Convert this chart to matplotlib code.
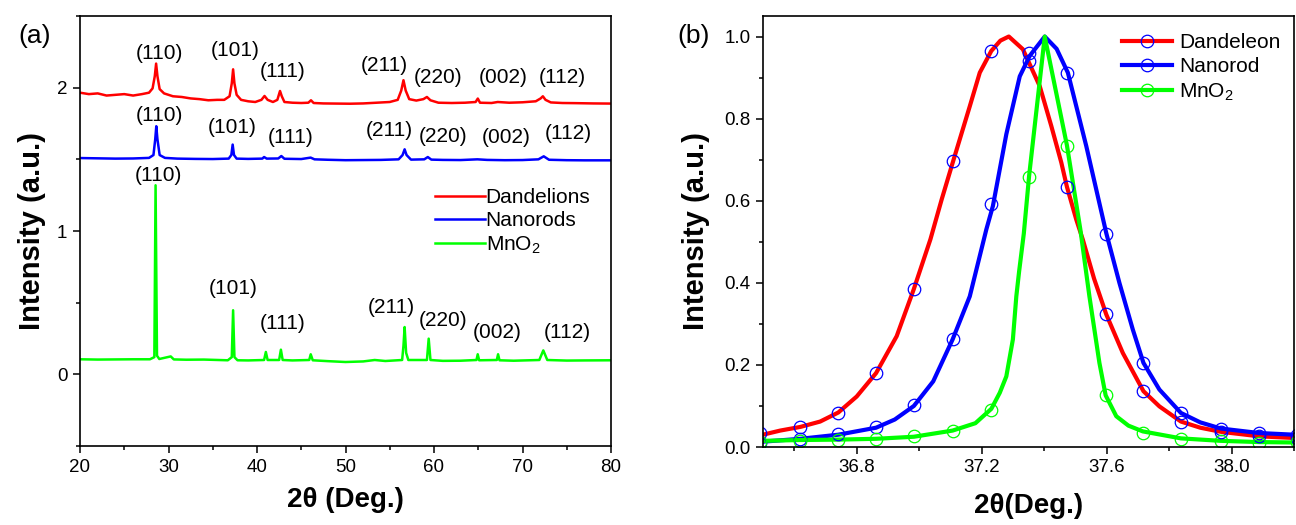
import matplotlib
matplotlib.use("Agg")
import matplotlib.pyplot as plt
from matplotlib.ticker import MultipleLocator

plt.rcParams['font.family'] = ['Liberation Sans', 'DejaVu Sans']
plt.rcParams['mathtext.default'] = 'regular'

# ---- (a) XRD patterns ----
red_2t = [20.0, 21.0, 22.0, 23.0, 24.0, 25.0, 26.0, 27.0, 27.8, 28.2, 28.45, 28.6, 28.75, 29.0,
          29.5, 30.5, 31.5, 32.5, 33.5, 34.5, 35.5, 36.3, 36.9, 37.15, 37.3, 37.45, 37.7, 38.2,
          39.0, 39.8, 40.5, 40.85, 41.2, 41.8, 42.3, 42.6, 42.8, 43.1, 44.0, 45.0, 45.8, 46.1,
          46.4, 47.5, 49.0, 50.5, 52.0, 53.5, 55.0, 55.9, 56.3, 56.55, 56.8, 57.2, 58.0, 58.8,
          59.2, 59.6, 60.5, 62.0, 63.5, 64.7, 64.95, 65.2, 66.5, 67.2, 68.5, 70.0, 71.5, 72.05,
          72.3, 72.6, 73.2, 74.5, 76.0, 78.0, 80.0]
red_int = [1.965, 1.955, 1.960, 1.945, 1.950, 1.955, 1.945, 1.955, 1.965, 1.995, 2.08, 2.168, 2.08, 1.99,
           1.960, 1.940, 1.935, 1.925, 1.920, 1.912, 1.915, 1.915, 1.940, 2.03, 2.128, 2.03, 1.950, 1.915,
           1.905, 1.900, 1.915, 1.942, 1.915, 1.900, 1.915, 1.977, 1.940, 1.900, 1.895, 1.893, 1.895, 1.912,
           1.893, 1.890, 1.889, 1.888, 1.890, 1.895, 1.900, 1.915, 1.98, 2.052, 1.98, 1.920, 1.910, 1.920,
           1.935, 1.912, 1.895, 1.893, 1.895, 1.900, 1.924, 1.895, 1.893, 1.900, 1.895, 1.898, 1.905, 1.925,
           1.940, 1.915, 1.897, 1.893, 1.892, 1.890, 1.889]

blue_2t = [20.0, 22.0, 24.0, 26.0, 27.8, 28.3, 28.5, 28.62, 28.75, 29.0, 29.6, 31.0, 33.0, 35.0,
           36.8, 37.1, 37.25, 37.4, 37.7, 39.0, 40.6, 40.8, 41.1, 42.4, 42.75, 43.1, 45.0, 46.06,
           46.5, 48.0, 50.0, 52.0, 54.0, 56.0, 56.45, 56.68, 56.9, 57.4, 58.9, 59.3, 59.7, 61.0,
           63.0, 64.9, 66.0, 68.0, 70.0, 71.8, 72.4, 73.0, 75.0, 77.0, 80.0]
blue_int = [1.509, 1.507, 1.505, 1.506, 1.510, 1.53, 1.64, 1.731, 1.64, 1.53, 1.510, 1.505, 1.503, 1.502,
            1.505, 1.53, 1.603, 1.53, 1.505, 1.503, 1.505, 1.516, 1.505, 1.506, 1.523, 1.504, 1.502, 1.512,
            1.500, 1.497, 1.494, 1.495, 1.496, 1.500, 1.53, 1.570, 1.53, 1.498, 1.500, 1.516, 1.498, 1.496,
            1.495, 1.500, 1.496, 1.494, 1.495, 1.500, 1.521, 1.497, 1.494, 1.493, 1.493]

green_2t = [20.0, 22.0, 24.0, 26.0, 27.9, 28.4, 28.54, 28.7, 28.96, 30.25, 30.6, 32.0, 34.0, 36.7,
            37.15, 37.3, 37.45, 37.8, 39.0, 40.8, 41.0, 41.2, 42.5, 42.7, 42.9, 44.0, 45.9, 46.07,
            46.3, 48.0, 50.0, 52.0, 53.3, 54.5, 56.4, 56.55, 56.68, 56.85, 57.1, 59.2, 59.4, 59.6,
            61.0, 63.0, 64.8, 64.94, 65.1, 67.1, 67.24, 67.4, 69.0, 71.9, 72.35, 72.8, 75.0, 77.0, 80.0]
green_int = [0.105, 0.103, 0.104, 0.105, 0.105, 0.12, 1.319, 0.13, 0.107, 0.125, 0.104, 0.102, 0.103, 0.098,
             0.12, 0.447, 0.12, 0.098, 0.097, 0.10, 0.156, 0.10, 0.10, 0.172, 0.10, 0.097, 0.10, 0.14,
             0.098, 0.092, 0.086, 0.09, 0.10, 0.093, 0.10, 0.2, 0.33, 0.15, 0.10, 0.10, 0.249, 0.10,
             0.094, 0.095, 0.10, 0.14, 0.098, 0.10, 0.14, 0.098, 0.095, 0.10, 0.167, 0.10, 0.096, 0.097, 0.098]

planes = ['(110)', '(101)', '(111)', '(211)', '(220)', '(002)', '(112)']
red_lab_x = [28.93, 37.5, 42.94, 54.38, 60.41, 67.87, 74.53]
red_lab_y = [2.238, 2.26, 2.11, 2.156, 2.068, 2.068, 2.068]
blue_lab_x = [28.93, 37.21, 43.8, 54.95, 60.97, 68.13, 75.17]
blue_lab_y = [1.807, 1.721, 1.652, 1.703, 1.661, 1.652, 1.68]
green_lab_x = [28.85, 37.26, 42.94, 55.15, 61.0, 67.15, 75.08]
green_lab_y = [1.389, 0.598, 0.354, 0.465, 0.377, 0.295, 0.295]

# ---- (b) (101) peak, fitted lines + measured points ----
dand_t = [36.50, 36.555, 36.62, 36.683, 36.741, 36.80, 36.862, 36.928, 36.983, 37.036, 37.072, 37.109,
          37.162, 37.194, 37.231, 37.26, 37.287, 37.332, 37.386, 37.423, 37.455, 37.473, 37.503, 37.524,
          37.56, 37.599, 37.652, 37.718, 37.769, 37.838, 37.90, 37.966, 38.089, 38.20]
dand_v = [0.030, 0.040, 0.049, 0.062, 0.084, 0.123, 0.18, 0.27, 0.385, 0.506, 0.603, 0.697,
          0.83, 0.912, 0.965, 0.99, 1.0, 0.969, 0.879, 0.782, 0.693, 0.634, 0.554, 0.505,
          0.41, 0.323, 0.229, 0.136, 0.099, 0.062, 0.047, 0.037, 0.026, 0.022]
rod_t = [36.50, 36.62, 36.741, 36.862, 36.922, 36.983, 37.045, 37.107, 37.162, 37.215, 37.236, 37.279,
         37.322, 37.354, 37.402, 37.44, 37.476, 37.535, 37.599, 37.641, 37.684, 37.718, 37.769, 37.838,
         37.90, 37.966, 38.089, 38.20]
rod_v = [0.013, 0.020, 0.030, 0.047, 0.067, 0.100, 0.16, 0.262, 0.367, 0.53, 0.587, 0.762,
         0.903, 0.953, 1.0, 0.97, 0.912, 0.733, 0.521, 0.40, 0.286, 0.205, 0.14, 0.083,
         0.060, 0.045, 0.034, 0.030]
mno_t = [36.50, 36.62, 36.741, 36.862, 36.983, 37.107, 37.18, 37.231, 37.258, 37.279, 37.30, 37.311,
         37.32, 37.335, 37.352, 37.402, 37.473, 37.516, 37.545, 37.577, 37.597, 37.631, 37.67, 37.716,
         37.838, 37.966, 38.089, 38.20]
mno_v = [0.015, 0.017, 0.018, 0.020, 0.025, 0.040, 0.058, 0.093, 0.132, 0.172, 0.262, 0.367,
         0.428, 0.52, 0.661, 1.0, 0.735, 0.53, 0.367, 0.205, 0.126, 0.075, 0.052, 0.038,
         0.021, 0.015, 0.012, 0.011]

pts_t = [36.49, 36.619, 36.741, 36.862, 36.983, 37.107, 37.231, 37.352, 37.473, 37.597, 37.718,
         37.838, 37.966, 38.089, 38.21]
dand_pts = [0.033, 0.049, 0.084, 0.180, 0.385, 0.697, 0.965, 0.940, 0.634, 0.323, 0.136,
            0.060, 0.037, 0.028, 0.022]
rod_pts = [0.010, 0.020, 0.031, 0.049, 0.102, 0.262, 0.592, 0.960, 0.910, 0.520, 0.205,
           0.083, 0.045, 0.034, 0.030]
mno_pts = [0.012, 0.015, 0.016, 0.019, 0.027, 0.038, 0.091, 0.657, 0.734, 0.126, 0.034,
           0.020, 0.014, 0.010, 0.011]

RED, BLUE, GREEN = '#ff0000', '#0000ff', '#00ff00'

fig = plt.figure(figsize=(12.96, 5.25), dpi=100)
ax1 = fig.add_axes([80 / 1296, 1 - 446 / 525, 531 / 1296, 430 / 525])
ax2 = fig.add_axes([763 / 1296, 1 - 447 / 525, 531 / 1296, 431 / 525])

# panel (a)
ax1.plot(red_2t, red_int, color=RED, lw=1.8, label='Dandelions')
ax1.plot(blue_2t, blue_int, color=BLUE, lw=1.8, label='Nanorods')
ax1.plot(green_2t, green_int, color=GREEN, lw=1.8, label='MnO$_2$')
for xs, ys in [(red_lab_x, red_lab_y), (blue_lab_x, blue_lab_y), (green_lab_x, green_lab_y)]:
    for lab, x, y in zip(planes, xs, ys):
        ax1.text(x, y, lab, ha='center', va='center', fontsize=15)

ax1.set_xlim(20, 80)
ax1.set_ylim(-0.5, 2.5)
ax1.xaxis.set_major_locator(MultipleLocator(10))
ax1.xaxis.set_minor_locator(MultipleLocator(5))
ax1.yaxis.set_major_locator(MultipleLocator(1))
ax1.yaxis.set_minor_locator(MultipleLocator(0.5))
ax1.set_xlabel('2θ (Deg.)', fontsize=20, fontweight='bold', labelpad=8)
ax1.set_ylabel('Intensity (a.u.)', fontsize=21, fontweight='bold', labelpad=8)
ax1.legend(loc='upper left', bbox_to_anchor=(0.668, 0.60), frameon=False, fontsize=15,
           handlelength=2.4, handletextpad=0.05, labelspacing=0.2, borderpad=0, borderaxespad=0)

# panel (b)
l1, = ax2.plot(dand_t, dand_v, color=RED, lw=3)
l2, = ax2.plot(rod_t, rod_v, color=BLUE, lw=3)
l3, = ax2.plot(mno_t, mno_v, color=GREEN, lw=3)
m1, = ax2.plot(pts_t, dand_pts, 'o', ms=9, mfc='none', mec=BLUE, mew=0.9)
m2, = ax2.plot(pts_t, rod_pts, 'o', ms=9, mfc='none', mec=BLUE, mew=0.9)
m3, = ax2.plot(pts_t, mno_pts, 'o', ms=9, mfc='none', mec=GREEN, mew=0.9)

ax2.set_xlim(36.5, 38.2)
ax2.set_ylim(0, 1.05)
ax2.xaxis.set_major_locator(MultipleLocator(0.4))
ax2.xaxis.set_minor_locator(MultipleLocator(0.2))
ax2.yaxis.set_major_locator(MultipleLocator(0.2))
ax2.yaxis.set_minor_locator(MultipleLocator(0.1))
ax2.xaxis.set_major_formatter(plt.FormatStrFormatter('%.1f'))
ax2.yaxis.set_major_formatter(plt.FormatStrFormatter('%.1f'))
ax2.set_xlabel('2θ(Deg.)', fontsize=20, fontweight='bold', labelpad=12)
ax2.set_ylabel('Intensity (a.u.)', fontsize=21, fontweight='bold', labelpad=10)
ax2.legend([(l1, m1), (l2, m2), (l3, m3)], ['Dandeleon', 'Nanorod', 'MnO$_2$'],
           loc='upper left', bbox_to_anchor=(0.676, 0.96), frameon=False, fontsize=15,
           handlelength=2.4, handletextpad=0.35, labelspacing=0.25, borderpad=0,
           borderaxespad=0, numpoints=1)

for ax in (ax1, ax2):
    for s in ax.spines.values():
        s.set_linewidth(1.2)
    ax.tick_params(which='major', direction='out', length=5, width=1.1, labelsize=13.5, pad=4)
    ax.tick_params(which='minor', direction='out', length=3, width=1.1)

fig.text(35 / 1296, 1 - 36 / 525, '(a)', fontsize=19, ha='center', va='center')
fig.text(694 / 1296, 1 - 36 / 525, '(b)', fontsize=19, ha='center', va='center')

fig.savefig('out.png', dpi=100)
